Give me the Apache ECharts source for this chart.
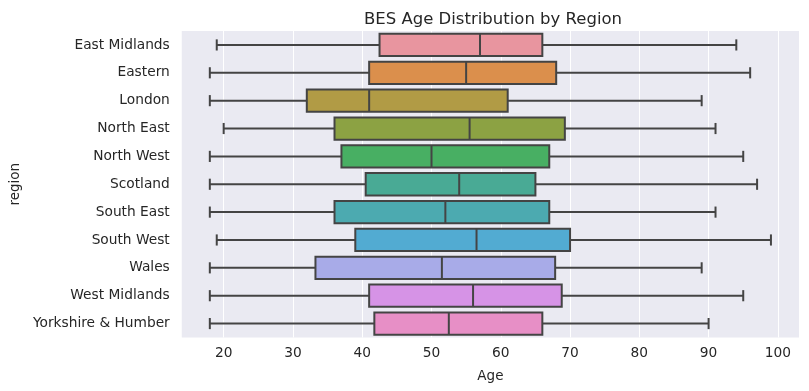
<!DOCTYPE html>
<html>
<head>
<meta charset="utf-8">
<script src="https://cdn.jsdelivr.net/npm/echarts@6/dist/echarts.min.js"></script>
<style>html,body{margin:0;padding:0;background:#fff;}#c{width:809px;height:391px;}</style>
</head>
<body>
<div id="c"></div>
<script>
const regions = ["East Midlands","Eastern","London","North East","North West","Scotland","South East","South West","Wales","West Midlands","Yorkshire & Humber"];
const whiskerLow  = [19, 18, 18, 20, 18, 18, 18, 19, 18, 18, 18];
const q1          = [42.5, 41, 32, 36, 37, 40.5, 36, 39, 33.25, 41, 41.75];
const median      = [57, 55, 41, 55.5, 50, 54, 52, 56.5, 51.5, 56, 52.5];
const q3          = [66, 68, 61, 69.25, 67, 65, 67, 70, 67.85, 68.8, 66];
const whiskerHigh = [94, 96, 89, 91, 95, 97, 91, 99, 89, 95, 90];
const xTicks = [20, 30, 40, 50, 60, 70, 80, 90, 100];
const colors = ["#E8959F","#DB8F4C","#B19B45","#8CA243","#48AF63","#49AA95","#4CAAB0","#52ABD2","#A8ABE8","#D693E6","#E78FC6"];

const lineColor = '#444444';
const data = regions.map((r, i) => [i, whiskerLow[i], q1[i], median[i], q3[i], whiskerHigh[i]]);

const chart = echarts.init(document.getElementById('c'), null, {renderer: 'canvas'});
chart.setOption({
  animation: false,
  backgroundColor: '#ffffff',
  textStyle: {fontFamily: 'DejaVu Sans', color: '#262626'},
  title: {
    text: 'BES Age Distribution by Region',
    left: 488, top: 6, textAlign: 'center',
    textStyle: {fontFamily: 'DejaVu Sans', fontSize: 16.5, fontWeight: 'normal', color: '#262626'}
  },
  grid: {left: 180, right: 10, top: 31, bottom: 53.5, show: true, backgroundColor: '#EAEAF2', borderWidth: 0},
  xAxis: {
    type: 'value', min: 13.95, max: 103.05,
    name: 'Age', nameLocation: 'middle', nameGap: 32,
    nameTextStyle: {fontSize: 13.5, color: '#262626'},
    axisLine: {show: false},
    axisTick: {show: false, customValues: xTicks},
    axisLabel: {customValues: xTicks, fontSize: 13.75, color: '#262626', margin: 9},
    splitLine: {show: true, lineStyle: {color: '#ffffff', width: 1}}
  },
  yAxis: {
    type: 'category', data: regions, inverse: true,
    name: 'region', nameLocation: 'middle', nameGap: 156,
    nameTextStyle: {fontSize: 13.5, color: '#262626'},
    axisLine: {show: false}, axisTick: {show: false},
    axisLabel: {fontSize: 13.75, color: '#262626', margin: 12},
    splitLine: {show: false}
  },
  series: [{
    type: 'custom',
    data: data,
    encode: {x: [1, 2, 3, 4, 5], y: 0},
    renderItem: function (params, api) {
      const idx = api.value(0);
      const band = api.size([0, 1])[1];
      const h = band * 0.8;
      const cap = h * 0.5;
      const pLow = api.coord([api.value(1), idx]);
      const pQ1 = api.coord([api.value(2), idx]);
      const pMed = api.coord([api.value(3), idx]);
      const pQ3 = api.coord([api.value(4), idx]);
      const pHigh = api.coord([api.value(5), idx]);
      const cy = pLow[1];
      const ls = {stroke: lineColor, lineWidth: 2};
      return {
        type: 'group',
        children: [
          {type: 'line', shape: {x1: pLow[0], y1: cy, x2: pQ1[0], y2: cy}, style: ls},
          {type: 'line', shape: {x1: pQ3[0], y1: cy, x2: pHigh[0], y2: cy}, style: ls},
          {type: 'line', shape: {x1: pLow[0], y1: cy - cap / 2, x2: pLow[0], y2: cy + cap / 2}, style: ls},
          {type: 'line', shape: {x1: pHigh[0], y1: cy - cap / 2, x2: pHigh[0], y2: cy + cap / 2}, style: ls},
          {type: 'rect', shape: {x: pQ1[0], y: cy - h / 2, width: pQ3[0] - pQ1[0], height: h},
            style: {fill: colors[idx], stroke: lineColor, lineWidth: 2}},
          {type: 'line', shape: {x1: pMed[0], y1: cy - h / 2, x2: pMed[0], y2: cy + h / 2}, style: ls}
        ]
      };
    }
  }]
});
</script>
</body>
</html>
